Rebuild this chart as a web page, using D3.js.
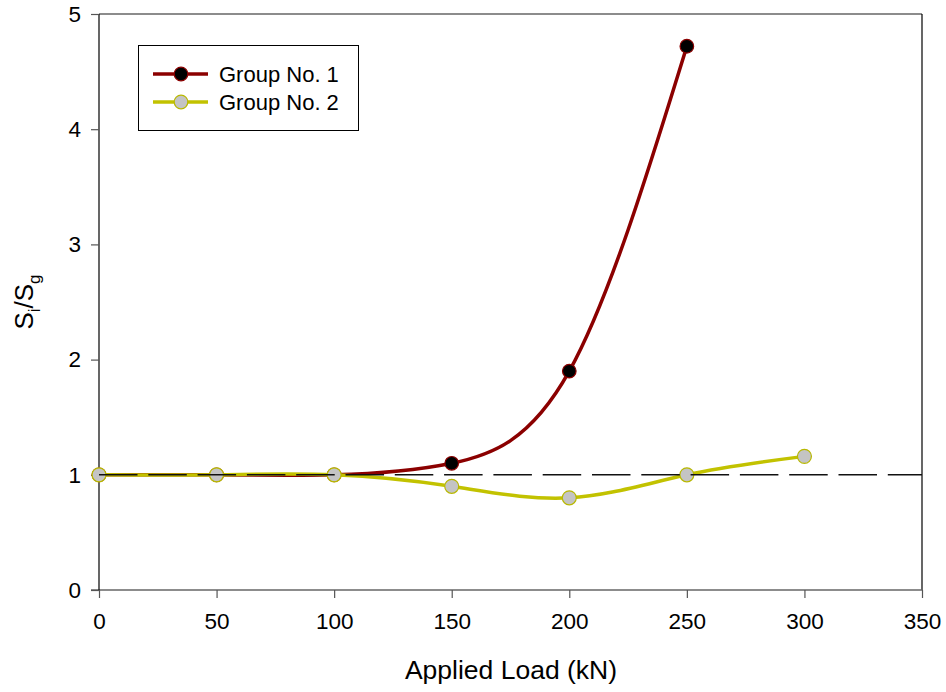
<!DOCTYPE html>
<html><head><meta charset="utf-8">
<script src="https://cdn.jsdelivr.net/npm/d3@7"></script>
<style>body{margin:0;background:#fff}svg{display:block;font-family:"Liberation Sans",Arial,sans-serif}</style>
</head><body><svg id="c" width="946" height="692"></svg>
<script>
const xTicks = [0, 50, 100, 150, 200, 250, 300, 350];
const yTicks = [0, 1, 2, 3, 4, 5];
const loads1 = [0, 50, 100, 150, 200, 250];
const group1 = [1.0, 1.0, 1.0, 1.1, 1.9, 4.72];
const loads2 = [0, 50, 100, 150, 200, 250, 300];
const group2 = [1.0, 1.0, 1.0, 0.9, 0.8, 1.0, 1.16];
const refLine = [1, 1];
const seriesNames = ["Group No. 1", "Group No. 2"];

const svg = d3.select("#c");
const x = d3.scaleLinear().domain([0, 350]).range([99, 922]);
const y = d3.scaleLinear().domain([0, 5]).range([590, 14]);

// frame: top (grey) and right (black)
svg.append("line").attr("x1", 99).attr("x2", 922).attr("y1", 14).attr("y2", 14).attr("stroke", "#666").attr("stroke-width", 1.5);
svg.append("line").attr("x1", 922).attr("x2", 922).attr("y1", 14).attr("y2", 590).attr("stroke", "#000").attr("stroke-width", 1.2);

const xAxis = svg.append("g").attr("transform", "translate(0,590)")
  .call(d3.axisBottom(x).tickValues(xTicks).tickSize(8).tickPadding(15).tickFormat(d3.format("d")));
xAxis.select(".domain").attr("stroke", "#666").attr("stroke-width", 1.5).attr("d", "M91,0H922");
xAxis.selectAll(".tick line").attr("stroke", "#555").attr("stroke-width", 1.2);
xAxis.selectAll("text").attr("font-size", 22.5).attr("fill", "#000").attr("font-family", "Liberation Sans, Arial, sans-serif");

const yAxis = svg.append("g").attr("transform", "translate(99,0)")
  .call(d3.axisLeft(y).tickValues(yTicks).tickSize(8).tickPadding(10).tickFormat(d3.format("d")));
yAxis.select(".domain").attr("stroke", "#000").attr("stroke-width", 1.2).attr("d", "M0,14V590");
yAxis.selectAll(".tick line").attr("stroke", "#555").attr("stroke-width", 1.2);
yAxis.selectAll("text").attr("font-size", 22.5).attr("fill", "#000").attr("font-family", "Liberation Sans, Arial, sans-serif");

const line = d3.line().x(d => x(d[0])).y(d => y(d[1])).curve(d3.curveNatural);
const d1 = loads1.map((l, i) => [l, group1[i]]);
const d2 = loads2.map((l, i) => [l, group2[i]]);

svg.append("path").datum(d1).attr("d", line).attr("fill", "none").attr("stroke", "#8b0000").attr("stroke-width", 3.5);
svg.append("g").selectAll("circle").data(d1).join("circle")
  .attr("cx", d => x(d[0])).attr("cy", d => y(d[1])).attr("r", 6.8)
  .attr("fill", "#000").attr("stroke", "#8b0000").attr("stroke-width", 1.2);

svg.append("path").datum(d2).attr("d", line).attr("fill", "none").attr("stroke", "#c2c200").attr("stroke-width", 3.5);
svg.append("g").selectAll("circle").data(d2).join("circle")
  .attr("cx", d => x(d[0])).attr("cy", d => y(d[1])).attr("r", 7)
  .attr("fill", "#c4c4c4").attr("stroke", "#b8b800").attr("stroke-width", 1.2);

// reference dashed line
svg.append("line").attr("x1", x(0)).attr("x2", x(350)).attr("y1", y(refLine[0])).attr("y2", y(refLine[1]))
  .attr("stroke", "#111").attr("stroke-width", 1.6).attr("stroke-dasharray", "38.5,10.8");

// legend
const lg = svg.append("g");
lg.append("rect").attr("x", 138.5).attr("y", 45.5).attr("width", 220).attr("height", 85)
  .attr("fill", "#fff").attr("stroke", "#000").attr("stroke-width", 1);
const legendStyles = [
  {line: "#8b0000", fill: "#000", stroke: "#8b0000"},
  {line: "#c2c200", fill: "#c4c4c4", stroke: "#b8b800"}
];
seriesNames.forEach((name, i) => {
  const cy = 74 + i * 28;
  lg.append("line").attr("x1", 153).attr("x2", 208).attr("y1", cy).attr("y2", cy)
    .attr("stroke", legendStyles[i].line).attr("stroke-width", 3.5);
  lg.append("circle").attr("cx", 181).attr("cy", cy).attr("r", 6.8)
    .attr("fill", legendStyles[i].fill).attr("stroke", legendStyles[i].stroke).attr("stroke-width", 1.2);
  lg.append("text").attr("x", 219).attr("y", cy + 8).attr("font-size", 22).text(name);
});

// axis titles
svg.append("text").attr("x", 511).attr("y", 679).attr("text-anchor", "middle").attr("font-size", 26.5).text("Applied Load (kN)");
const yt = svg.append("text").attr("transform", "translate(33,302) rotate(-90)").attr("text-anchor", "middle").attr("font-size", 26);
yt.append("tspan").text("S");
yt.append("tspan").attr("font-size", 17).attr("dy", 7).text("i");
yt.append("tspan").attr("dy", -7).text("/S");
yt.append("tspan").attr("font-size", 17).attr("dy", 7).text("g");
</script></body></html>
